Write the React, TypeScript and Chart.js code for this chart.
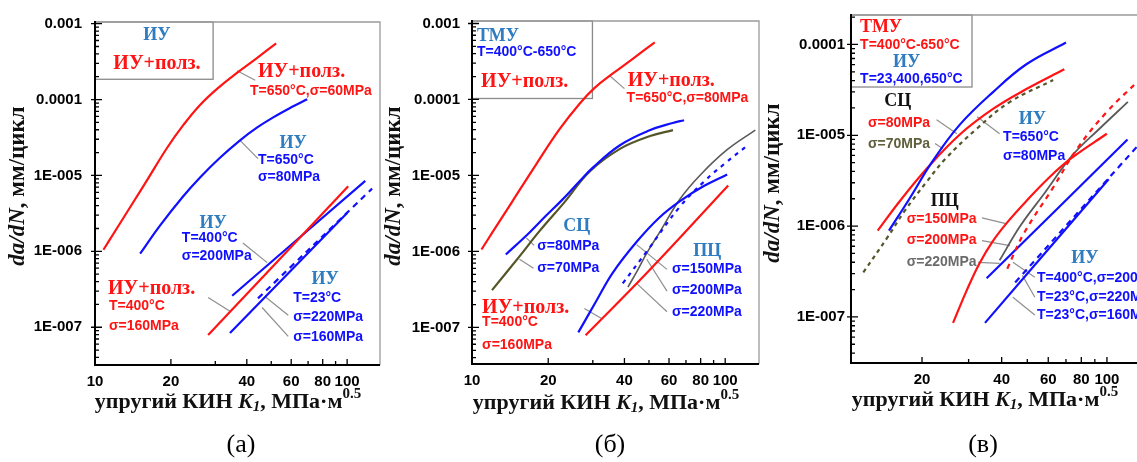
import React, { useEffect, useRef } from 'react';
import { Chart, registerables } from 'chart.js';

Chart.register(...registerables);

const RED = '#ff1414';
const BLUE = '#1010ff';
const OLIVE = '#55552a';
const DGRAY = '#5a5a5a';
const STEEL = '#2f7cc0';
const LEAD = '#8f8f8f';
const SERIF = '"Liberation Serif", "Times New Roman", serif';
const SANS = '"Liberation Sans", Arial, sans-serif';

// ===== tick values / labels =====
const xTicksAB = [10, 20, 40, 60, 80, 100];
const xTicksC = [20, 40, 60, 80, 100];
const xTickMarks = [10, 20, 30, 40, 50, 60, 70, 80, 90, 100];
const yTicksAB = [1e-7, 1e-6, 1e-5, 1e-4, 1e-3];
const yLabelsAB = ['1E-007', '1E-006', '1E-005', '0.0001', '0.001'];
const yTicksC = [1e-7, 1e-6, 1e-5, 1e-4];
const yLabelsC = ['1E-007', '1E-006', '1E-005', '0.0001'];

// ===== panel (а) data: K1 (MPa·m^0.5) and da/dN (mm/cycle) =====
const aCreep650K = [10.8, 12.2, 14.2, 16.0, 19.3, 22.5, 26.1, 31, 36.9, 44, 52.3];
const aCreep650V = [1.05e-6, 2.0e-6, 4.47e-6, 8.4e-6, 2.3e-5, 4.7e-5, 8.5e-5, 1.45e-4, 2.3e-4, 3.55e-4, 5.5e-4];
const aIU650K = [15.1, 18.1, 22.3, 26.1, 31, 37.6, 44, 50.9, 60, 69.4];
const aIU650V = [9.3e-7, 2.18e-6, 5.24e-6, 9.4e-6, 1.66e-5, 2.9e-5, 4.29e-5, 5.83e-5, 7.9e-5, 1.01e-4];
const aCreep400K = [28.1, 101];
const aCreep400V = [7.9e-8, 7.2e-6];
const aIU400K = [35, 118];
const aIU400V = [2.6e-7, 8.5e-6];
const aIU23s220K = [44.3, 125.6];
const aIU23s220V = [2.4e-7, 6.7e-6];
const aIU23s160K = [34.3, 100];
const aIU23s160V = [8.4e-8, 3.2e-6];

// ===== panel (б) data =====
const bCreep650K = [10.9, 12.0, 14.4, 17.9, 22.1, 26.6, 30.5, 35.9, 43, 52.7];
const bCreep650V = [1.06e-6, 1.75e-6, 4.5e-6, 1.39e-5, 4.0e-5, 8.8e-5, 1.42e-4, 2.18e-4, 3.4e-4, 5.66e-4];
const bSC80K = [13.6, 16.8, 19.5, 22.6, 26.6, 30, 38.4, 50, 62, 68.8];
const bSC80V = [9.1e-7, 1.75e-6, 2.9e-6, 4.7e-6, 8.4e-6, 1.27e-5, 2.5e-5, 3.9e-5, 4.9e-5, 5.33e-5];
const bSC70K = [12.0, 15.4, 18.4, 23.2, 29.1, 38.4, 50.5, 62.2];
const bSC70V = [3.1e-7, 8.6e-7, 1.82e-6, 4.46e-6, 1.12e-5, 2.24e-5, 3.3e-5, 3.95e-5];
const bPC150K = [26.3, 31, 35.9, 44.8, 55, 66.3, 82, 101.8];
const bPC150V = [8.6e-8, 2.24e-7, 5.2e-7, 1.35e-6, 2.8e-6, 4.6e-6, 7.2e-6, 1.03e-5];
const bPC200K = [39.4, 49, 66.3, 83.1, 100, 122];
const bPC200V = [3.8e-7, 1.0e-6, 3.9e-6, 8.5e-6, 1.45e-5, 2.45e-5];
const bPC220K = [41.3, 45, 49, 55.3, 66.3, 79.4, 101.8, 131.5];
const bPC220V = [3.4e-7, 5.6e-7, 9.5e-7, 1.82e-6, 4.9e-6, 1.0e-5, 2.18e-5, 3.95e-5];
const bCreep400K = [28.1, 49, 102.8];
const bCreep400V = [7.9e-8, 5.2e-7, 7.4e-6];

// ===== panel (в) data =====
const cIU650K = [15.0, 18.0, 21.9, 27.8, 37.1, 49.6, 70.0];
const cIU650V = [8.9e-7, 2.04e-6, 5.16e-6, 1.31e-5, 2.99e-5, 6.05e-5, 1.05e-4];
const cSC80K = [13.6, 16.5, 20.9, 27.8, 37.1, 49.6, 69.0];
const cSC80V = [8.9e-7, 1.89e-6, 4.33e-6, 1.02e-5, 1.95e-5, 3.23e-5, 5.33e-5];
const cSC70K = [12.0, 14.8, 17.2, 20.9, 24.6, 32.2, 43.0, 62.6];
const cSC70V = [3.1e-7, 7.5e-7, 1.47e-6, 3.12e-6, 5.56e-6, 1.18e-5, 2.33e-5, 4.05e-5];
const cPC150K = [26.2, 29.6, 33, 37, 42, 49.6, 60.9, 74, 99.9];
const cPC150V = [8.6e-8, 2.0e-7, 3.9e-7, 6.8e-7, 1.1e-6, 1.89e-6, 3.5e-6, 5.7e-6, 1.04e-5];
const cPC200K = [42, 48.4, 62.4, 77.1, 99.9, 130];
const cPC200V = [3.4e-7, 8.2e-7, 2.62e-6, 7.1e-6, 1.81e-5, 3.85e-5];
const cPC220K = [39.3, 47, 57.4, 74, 93.7, 120];
const cPC220V = [4.2e-7, 1.0e-6, 2.2e-6, 6.0e-6, 1.18e-5, 2.33e-5];
const cIU400K = [35.1, 119.6];
const cIU400V = [2.66e-7, 8.97e-6];
const cIU23s220K = [45, 134];
const cIU23s220V = [2.4e-7, 8.3e-6];
const cIU23s160K = [34.6, 101.5];
const cIU23s160V = [8.6e-8, 3.28e-6];

// ===== types & helpers =====
type Txt = { t: string; k: number; v: number; c: string; f: 'big' | 'head' | 'small'; a?: 'center' };
const FONT: Record<string, string> = {
  big: `bold 20px ${SERIF}`,
  head: `bold 18px ${SERIF}`,
  small: `bold 14px ${SANS}`,
};

type Style = { color: string; width?: number; dash?: number[] };
function ds(K: number[], V: number[], s: Style) {
  return {
    data: K.map((k, i) => ({ x: k, y: V[i] })),
    borderColor: s.color,
    backgroundColor: s.color,
    borderWidth: s.width ?? 2.2,
    borderDash: s.dash ?? [],
    pointRadius: 0,
    fill: false,
    tension: 0.4,
    borderCapStyle: 'butt',
  };
}

interface PanelDef {
  left: number;
  width: number;
  area: { l: number; t: number; r: number; b: number };
  xMin: number; xMax: number; yMin: number; yMax: number;
  xTicks: number[]; yTicks: number[]; yLabels: string[]; yPad: number;
  datasets: any[];
  box: number[];
  texts: Txt[];
  leads: number[][];
  xTitle: number[]; yTitle: number[]; letter: string; letterPos: number[];
}

// ===== panel definitions =====
const panelA: PanelDef = {
  left: 0, width: 382,
  area: { l: 95, t: 20, r: 380, b: 365 },
  xMin: 10, xMax: 135, yMin: 3.18e-8, yMax: 1.052e-3,
  xTicks: xTicksAB, yTicks: yTicksAB, yLabels: yLabelsAB, yPad: 13,
  datasets: [
    ds(aCreep650K, aCreep650V, { color: RED }),
    ds(aIU650K, aIU650V, { color: BLUE }),
    ds(aCreep400K, aCreep400V, { color: RED }),
    ds(aIU400K, aIU400V, { color: BLUE }),
    ds(aIU23s220K, aIU23s220V, { color: BLUE, dash: [6, 5] }),
    ds(aIU23s160K, aIU23s160V, { color: BLUE }),
  ],
  box: [29.4, 1.85e-4],
  texts: [
    { t: 'ИУ', k: 17.6, v: 6.97e-4, c: STEEL, f: 'head', a: 'center' },
    { t: 'ИУ+полз.', k: 17.6, v: 3.0e-4, c: RED, f: 'big', a: 'center' },
    { t: 'ИУ+полз.', k: 44.3, v: 2.29e-4, c: RED, f: 'big' },
    { t: 'T=650°C,σ=60MPa', k: 41.2, v: 1.29e-4, c: RED, f: 'small' },
    { t: 'ИУ', k: 61.1, v: 2.62e-5, c: STEEL, f: 'head', a: 'center' },
    { t: 'T=650°C', k: 44.3, v: 1.57e-5, c: BLUE, f: 'small' },
    { t: 'σ=80MPa', k: 44.3, v: 9.4e-6, c: BLUE, f: 'small' },
    { t: 'ИУ', k: 29.4, v: 2.36e-6, c: STEEL, f: 'head', a: 'center' },
    { t: 'T=400°C', k: 22.1, v: 1.5e-6, c: BLUE, f: 'small' },
    { t: 'σ=200MPa', k: 22.1, v: 8.7e-7, c: BLUE, f: 'small' },
    { t: 'ИУ+полз.', k: 11.26, v: 3.23e-7, c: RED, f: 'big' },
    { t: 'T=400°C', k: 11.36, v: 1.88e-7, c: RED, f: 'small' },
    { t: 'σ=160MPa', k: 11.36, v: 1.03e-7, c: RED, f: 'small' },
    { t: 'ИУ', k: 81.7, v: 4.24e-7, c: STEEL, f: 'head', a: 'center' },
    { t: 'T=23°C', k: 61.1, v: 2.39e-7, c: BLUE, f: 'small' },
    { t: 'σ=220MPa', k: 61.1, v: 1.35e-7, c: BLUE, f: 'small' },
    { t: 'σ=160MPa', k: 61.1, v: 7.4e-8, c: BLUE, f: 'small' },
  ],
  leads: [
    [36.6, 2.4e-4, 43.2, 1.8e-4],
    [37.6, 2.9e-5, 44.3, 1.67e-5],
    [38.6, 1.29e-6, 48.2, 7.1e-7],
    [28.1, 2.47e-7, 34.3, 1.62e-7],
    [47.2, 2.54e-7, 58.4, 1.44e-7],
    [46.0, 1.82e-7, 58.4, 7.6e-8],
  ],
  xTitle: [228, 402], yTitle: [18, 186], letter: '(а)', letterPos: [241, 445],
};

const panelB: PanelDef = {
  left: 382, width: 378,
  area: { l: 90, t: 17, r: 377, b: 364 },
  xMin: 10, xMax: 136, yMin: 3.3e-8, yMax: 1.078e-3,
  xTicks: xTicksAB, yTicks: yTicksAB, yLabels: yLabelsAB, yPad: 12,
  datasets: [
    ds(bCreep650K, bCreep650V, { color: RED }),
    ds(bSC80K, bSC80V, { color: BLUE }),
    ds(bSC70K, bSC70V, { color: OLIVE }),
    ds(bPC150K, bPC150V, { color: BLUE }),
    ds(bPC200K, bPC200V, { color: BLUE, dash: [4, 5] }),
    ds(bPC220K, bPC220V, { color: DGRAY, width: 1.6 }),
    ds(bCreep400K, bCreep400V, { color: RED }),
  ],
  box: [29.9, 1.03e-4],
  texts: [
    { t: 'ТМУ', k: 10.46, v: 6.78e-4, c: STEEL, f: 'head' },
    { t: 'T=400°C-650°C', k: 10.46, v: 4.2e-4, c: BLUE, f: 'small' },
    { t: 'ИУ+полз.', k: 10.86, v: 1.71e-4, c: RED, f: 'big' },
    { t: 'ИУ+полз.', k: 41.2, v: 1.77e-4, c: RED, f: 'big' },
    { t: 'T=650°C,σ=80MPa', k: 40.8, v: 1.03e-4, c: RED, f: 'small' },
    { t: 'СЦ', k: 25.9, v: 2.11e-6, c: STEEL, f: 'head', a: 'center' },
    { t: 'σ=80MPa', k: 18.1, v: 1.16e-6, c: BLUE, f: 'small' },
    { t: 'σ=70MPa', k: 18.1, v: 6.0e-7, c: BLUE, f: 'small' },
    { t: 'ИУ+полз.', k: 10.96, v: 1.82e-7, c: RED, f: 'big' },
    { t: 'T=400°C', k: 10.96, v: 1.16e-7, c: RED, f: 'small' },
    { t: 'σ=160MPa', k: 10.96, v: 5.83e-8, c: RED, f: 'small' },
    { t: 'ПЦ', k: 84.9, v: 1e-6, c: STEEL, f: 'head', a: 'center' },
    { t: 'σ=150MPa', k: 61.6, v: 5.83e-7, c: BLUE, f: 'small' },
    { t: 'σ=200MPa', k: 61.6, v: 3.12e-7, c: BLUE, f: 'small' },
    { t: 'σ=220MPa', k: 61.6, v: 1.61e-7, c: BLUE, f: 'small' },
  ],
  leads: [
    [35.0, 2.05e-4, 40.0, 1.39e-4],
    [16.4, 1.5e-6, 17.6, 1.2e-6],
    [15.4, 7.9e-7, 17.5, 6.0e-7],
    [27.8, 1.77e-7, 32.5, 1.31e-7],
    [44.7, 1.23e-6, 58.9, 5.8e-7],
    [49.0, 7.9e-7, 58.9, 3.0e-7],
    [44.7, 3.8e-7, 58.9, 1.61e-7],
  ],
  xTitle: [224, 403], yTitle: [12, 186], letter: '(б)', letterPos: [228, 445],
};

const panelC: PanelDef = {
  left: 760, width: 400,
  area: { l: 91, t: 13, r: 381, b: 363 },
  xMin: 10.78, xMax: 134.5, yMin: 3.11e-8, yMax: 2.11e-4,
  xTicks: xTicksC, yTicks: yTicksC, yLabels: yLabelsC, yPad: 6,
  datasets: [
    ds(cIU650K, cIU650V, { color: BLUE }),
    ds(cSC80K, cSC80V, { color: RED }),
    ds(cSC70K, cSC70V, { color: OLIVE, dash: [4, 4] }),
    ds(cPC150K, cPC150V, { color: RED }),
    ds(cPC200K, cPC200V, { color: RED, dash: [5, 5] }),
    ds(cPC220K, cPC220V, { color: DGRAY, width: 1.8 }),
    ds(cIU400K, cIU400V, { color: BLUE }),
    ds(cIU23s220K, cIU23s220V, { color: BLUE, dash: [6, 5] }),
    ds(cIU23s160K, cIU23s160V, { color: BLUE }),
  ],
  box: [30.9, 3.4e-5],
  texts: [
    { t: 'ТМУ', k: 11.67, v: 1.53e-4, c: RED, f: 'head' },
    { t: 'T=400°C-650°C', k: 11.67, v: 9.75e-5, c: RED, f: 'small' },
    { t: 'ИУ', k: 17.5, v: 6.37e-5, c: STEEL, f: 'head', a: 'center' },
    { t: 'T=23,400,650°C', k: 11.67, v: 4.15e-5, c: BLUE, f: 'small' },
    { t: 'СЦ', k: 16.2, v: 2.39e-5, c: '#111111', f: 'head', a: 'center' },
    { t: 'σ=80MPa', k: 12.5, v: 1.37e-5, c: RED, f: 'small' },
    { t: 'σ=70MPa', k: 12.5, v: 7.9e-6, c: '#5f5f3c', f: 'small' },
    { t: 'ИУ', k: 52.2, v: 1.48e-5, c: STEEL, f: 'head', a: 'center' },
    { t: 'T=650°C', k: 40.5, v: 9.66e-6, c: BLUE, f: 'small' },
    { t: 'σ=80MPa', k: 40.5, v: 5.85e-6, c: BLUE, f: 'small' },
    { t: 'ПЦ', k: 24.4, v: 1.89e-6, c: '#111111', f: 'head', a: 'center' },
    { t: 'σ=150MPa', k: 17.5, v: 1.2e-6, c: RED, f: 'small' },
    { t: 'σ=200MPa', k: 17.5, v: 6.92e-7, c: RED, f: 'small' },
    { t: 'σ=220MPa', k: 17.5, v: 3.98e-7, c: '#6b6b6b', f: 'small' },
    { t: 'ИУ', k: 82.6, v: 4.4e-7, c: STEEL, f: 'head', a: 'center' },
    { t: 'T=400°C,σ=200MPa', k: 54.4, v: 2.66e-7, c: BLUE, f: 'small' },
    { t: 'T=23°C,σ=220MPa', k: 54.4, v: 1.65e-7, c: BLUE, f: 'small' },
    { t: 'T=23°C,σ=160MPa', k: 54.4, v: 1.05e-7, c: BLUE, f: 'small' },
  ],
  leads: [
    [22.7, 1.48e-5, 27.1, 1.04e-5],
    [22.4, 8.1e-6, 24.0, 7.1e-6],
    [32.3, 1.6e-5, 39.3, 1.04e-5],
    [33.7, 1.23e-6, 41.9, 1.06e-6],
    [33.7, 6.92e-7, 43.0, 6.1e-7],
    [32.6, 3.98e-7, 39.3, 3.88e-7],
    [44.1, 4.0e-7, 53.4, 2.73e-7],
    [47.9, 2.87e-7, 53.4, 1.65e-7],
    [44.1, 1.65e-7, 53.4, 1.05e-7],
  ],
  xTitle: [225, 400], yTitle: [13, 183], letter: '(в)', letterPos: [223, 445],
};

type Seg = { t: string; font: string; dy?: number };
function drawSegs(ctx: CanvasRenderingContext2D, segs: Seg[], x: number, y: number) {
  let w = 0;
  for (const s of segs) { ctx.font = s.font; w += ctx.measureText(s.t).width; }
  let cx = x - w / 2;
  ctx.textAlign = 'left';
  for (const s of segs) {
    ctx.font = s.font;
    ctx.fillText(s.t, cx, y + (s.dy || 0));
    cx += ctx.measureText(s.t).width;
  }
}

const xTitleSegs: Seg[] = [
  { t: 'упругий КИН ', font: `bold 22px ${SERIF}` },
  { t: 'K', font: `italic bold 22px ${SERIF}` },
  { t: '1', font: `italic bold 15px ${SERIF}`, dy: 5 },
  { t: ', МПа·м', font: `bold 22px ${SERIF}` },
  { t: '0.5', font: `bold 15px ${SERIF}`, dy: -8 },
];
const yTitleSegs: Seg[] = [
  { t: 'da/dN', font: `italic bold 23px ${SERIF}` },
  { t: ', мм/цикл', font: `bold 23px ${SERIF}` },
];

function makePlugin(p: PanelDef) {
  const px = (c: any, k: number) => c.scales.x.getPixelForValue(k);
  const py = (c: any, v: number) => c.scales.y.getPixelForValue(v);
  return {
    id: 'decor',
    beforeDatasetsDraw(c: any) {
      const ctx = c.ctx as CanvasRenderingContext2D;
      const a = c.chartArea;
      ctx.save();
      ctx.strokeStyle = '#8a8a8a';
      ctx.lineWidth = 1.3;
      ctx.strokeRect(a.left, a.top, px(c, p.box[0]) - a.left, py(c, p.box[1]) - a.top);
      ctx.strokeStyle = LEAD;
      ctx.lineWidth = 1.2;
      for (const l of p.leads) {
        ctx.beginPath();
        ctx.moveTo(px(c, l[0]), py(c, l[1]));
        ctx.lineTo(px(c, l[2]), py(c, l[3]));
        ctx.stroke();
      }
      ctx.restore();
    },
    afterDatasetsDraw(c: any) {
      const ctx = c.ctx as CanvasRenderingContext2D;
      ctx.save();
      ctx.textBaseline = 'middle';
      for (const t of p.texts) {
        ctx.font = FONT[t.f];
        ctx.fillStyle = t.c;
        ctx.textAlign = t.a === 'center' ? 'center' : 'left';
        ctx.fillText(t.t, px(c, t.k), py(c, t.v));
      }
      ctx.restore();
    },
    afterDraw(c: any) {
      const ctx = c.ctx as CanvasRenderingContext2D;
      const a = c.chartArea;
      ctx.save();
      // frame
      ctx.strokeStyle = '#9a9a9a';
      ctx.lineWidth = 1.3;
      ctx.beginPath();
      ctx.moveTo(a.left, a.top);
      ctx.lineTo(a.right, a.top);
      ctx.lineTo(a.right, a.bottom);
      ctx.stroke();
      ctx.strokeStyle = '#000';
      ctx.lineWidth = 2;
      ctx.beginPath();
      ctx.moveTo(a.left, a.top - 1);
      ctx.lineTo(a.left, a.bottom);
      ctx.lineTo(a.right, a.bottom);
      ctx.stroke();
      // y ticks
      ctx.lineWidth = 1.3;
      ctx.beginPath();
      for (let d = -8; d <= -3; d++) {
        for (let m = 1; m <= 9; m++) {
          const v = Number((m * Math.pow(10, d)).toPrecision(3));
          if (v < p.yMin || v > p.yMax) continue;
          const y = py(c, v);
          if (m === 1) { ctx.moveTo(a.left - 4, y); ctx.lineTo(a.left + 7, y); }
          else { ctx.moveTo(a.left, y); ctx.lineTo(a.left + 4, y); }
        }
      }
      // x ticks
      for (const v of xTickMarks) {
        if (v < p.xMin || v > p.xMax) continue;
        const x = px(c, v);
        const len = p.xTicks.includes(v) ? 6 : 4;
        ctx.moveTo(x, a.bottom);
        ctx.lineTo(x, a.bottom - len);
      }
      ctx.stroke();
      // titles
      ctx.fillStyle = '#111';
      ctx.textBaseline = 'middle';
      drawSegs(ctx, xTitleSegs, p.xTitle[0], p.xTitle[1]);
      ctx.save();
      ctx.translate(p.yTitle[0], p.yTitle[1]);
      ctx.rotate(-Math.PI / 2);
      drawSegs(ctx, yTitleSegs, 0, 0);
      ctx.restore();
      ctx.font = `26px ${SERIF}`;
      ctx.textAlign = 'center';
      ctx.fillStyle = '#000';
      ctx.fillText(p.letter, p.letterPos[0], p.letterPos[1]);
      ctx.restore();
    },
  };
}

function buildConfig(p: PanelDef): any {
  const tickFont = { family: SANS, size: 15, weight: 'bold' };
  return {
    type: 'line',
    data: { datasets: p.datasets },
    options: {
      animation: false,
      responsive: false,
      devicePixelRatio: 1,
      events: [],
      layout: { padding: { left: 0, top: p.area.t, right: p.width - p.area.r, bottom: 0 } },
      plugins: { legend: { display: false }, tooltip: { enabled: false }, title: { display: false } },
      scales: {
        x: {
          type: 'logarithmic',
          position: 'bottom',
          min: p.xMin,
          max: p.xMax,
          bounds: 'data',
          grid: { display: false, drawTicks: false },
          border: { display: false },
          ticks: {
            autoSkip: false, maxRotation: 0, minRotation: 0, padding: 8,
            color: '#000', font: tickFont,
            callback: (v: any) => String(v),
          },
          afterBuildTicks: (s: any) => { s.ticks = p.xTicks.map((v) => ({ value: v })); },
          afterFit: (s: any) => { s.height = 462 - p.area.b; },
        },
        y: {
          type: 'logarithmic',
          position: 'left',
          min: p.yMin,
          max: p.yMax,
          bounds: 'data',
          grid: { display: false, drawTicks: false },
          border: { display: false },
          ticks: {
            autoSkip: false, padding: p.yPad,
            color: '#000', font: tickFont,
            callback: (_v: any, i: number) => p.yLabels[i],
          },
          afterBuildTicks: (s: any) => { s.ticks = p.yTicks.map((v) => ({ value: v })); },
          afterFit: (s: any) => { s.width = p.area.l; },
        },
      },
    },
    plugins: [makePlugin(p)],
  };
}

function Panel({ def }: { def: PanelDef }) {
  const ref = useRef<HTMLCanvasElement>(null);
  useEffect(() => {
    const chart = new Chart(ref.current as HTMLCanvasElement, buildConfig(def));
    return () => chart.destroy();
  }, [def]);
  return (
    <canvas
      ref={ref}
      width={def.width}
      height={462}
      style={{ position: 'absolute', left: def.left, top: 0, width: def.width, height: 462 }}
    />
  );
}

export default function App() {
  return (
    <div
      style={{
        position: 'absolute', left: 0, top: 0, width: 1137, height: 462,
        overflow: 'hidden', background: '#fff',
      }}
    >
      <Panel def={panelA} />
      <Panel def={panelB} />
      <Panel def={panelC} />
    </div>
  );
}
